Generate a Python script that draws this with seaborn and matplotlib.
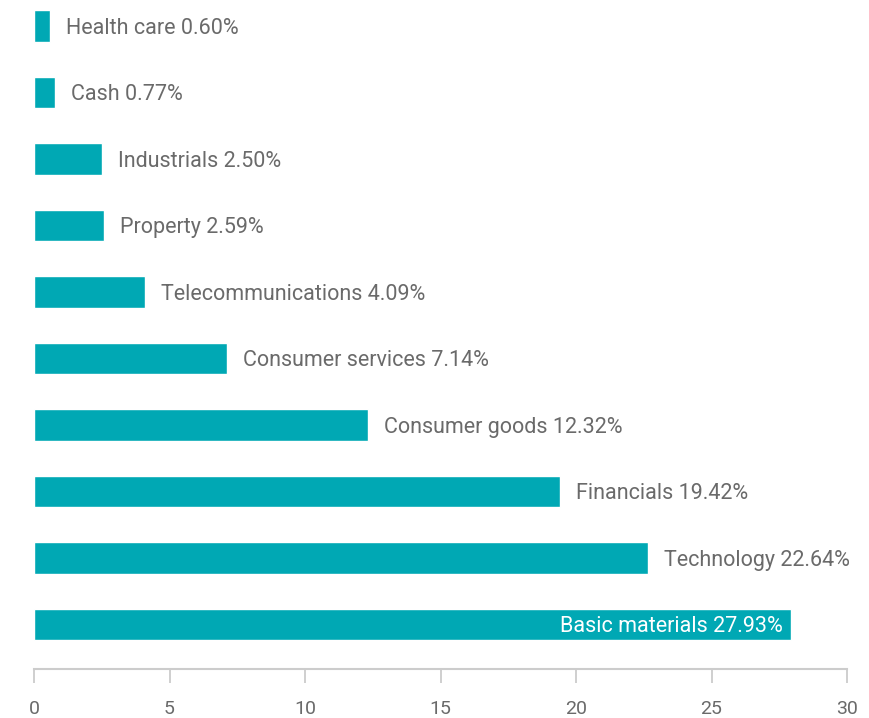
import matplotlib
matplotlib.use("Agg")
import matplotlib.pyplot as plt
import seaborn as sns
import pandas as pd

# sector weights (%)
sectors = ["Health care", "Cash", "Industrials", "Property", "Telecommunications",
           "Consumer services", "Consumer goods", "Financials", "Technology",
           "Basic materials"]
weights = [0.60, 0.77, 2.50, 2.59, 4.09, 7.14, 12.32, 19.42, 22.64, 27.93]
x_ticks = [0, 5, 10, 15, 20, 25, 30]

df = pd.DataFrame({"sector": sectors, "weight": weights})

sns.set_style("white")
plt.rcParams["font.family"] = ["Roboto", "DejaVu Sans"]

bar_color = "#00A8B4"
text_color = "#6a6a6a"

fig = plt.figure(figsize=(8.69, 7.18), dpi=100)
ax = fig.add_axes([34 / 869, 1 - 669 / 718, (847 - 34) / 869, 669 / 718])

sns.barplot(data=df, x="weight", y="sector", color=bar_color, width=0.47,
            saturation=1, ax=ax)

ax.set_xlim(0, 30)
ax.set_ylim(9.67, -0.39)

# value labels
for i, (name, val) in enumerate(zip(sectors, weights)):
    label = f"{name} {val:.2f}%"
    if val > 26:
        ax.annotate(label, (val, i), xytext=(-6, -1.5), textcoords="offset points",
                    ha="right", va="center", color="white", fontsize=15.5)
    else:
        ax.annotate(label, (val, i), xytext=(11.5, -1.5), textcoords="offset points",
                    ha="left", va="center", color=text_color, fontsize=15.5)

for side in ["top", "right", "left"]:
    ax.spines[side].set_visible(False)
ax.spines["bottom"].set_color("#cccccc")
ax.spines["bottom"].set_linewidth(1.5)

ax.set_yticks([])
ax.set_xticks(x_ticks)
ax.set_xticklabels([str(t) for t in x_ticks])
ax.tick_params(axis="x", bottom=True, direction="out", length=10, width=1.3,
               color="#cccccc", labelsize=14, labelcolor=text_color, pad=12)
ax.set_xlabel("")
ax.set_ylabel("")

fig.savefig("out.png", dpi=100)
